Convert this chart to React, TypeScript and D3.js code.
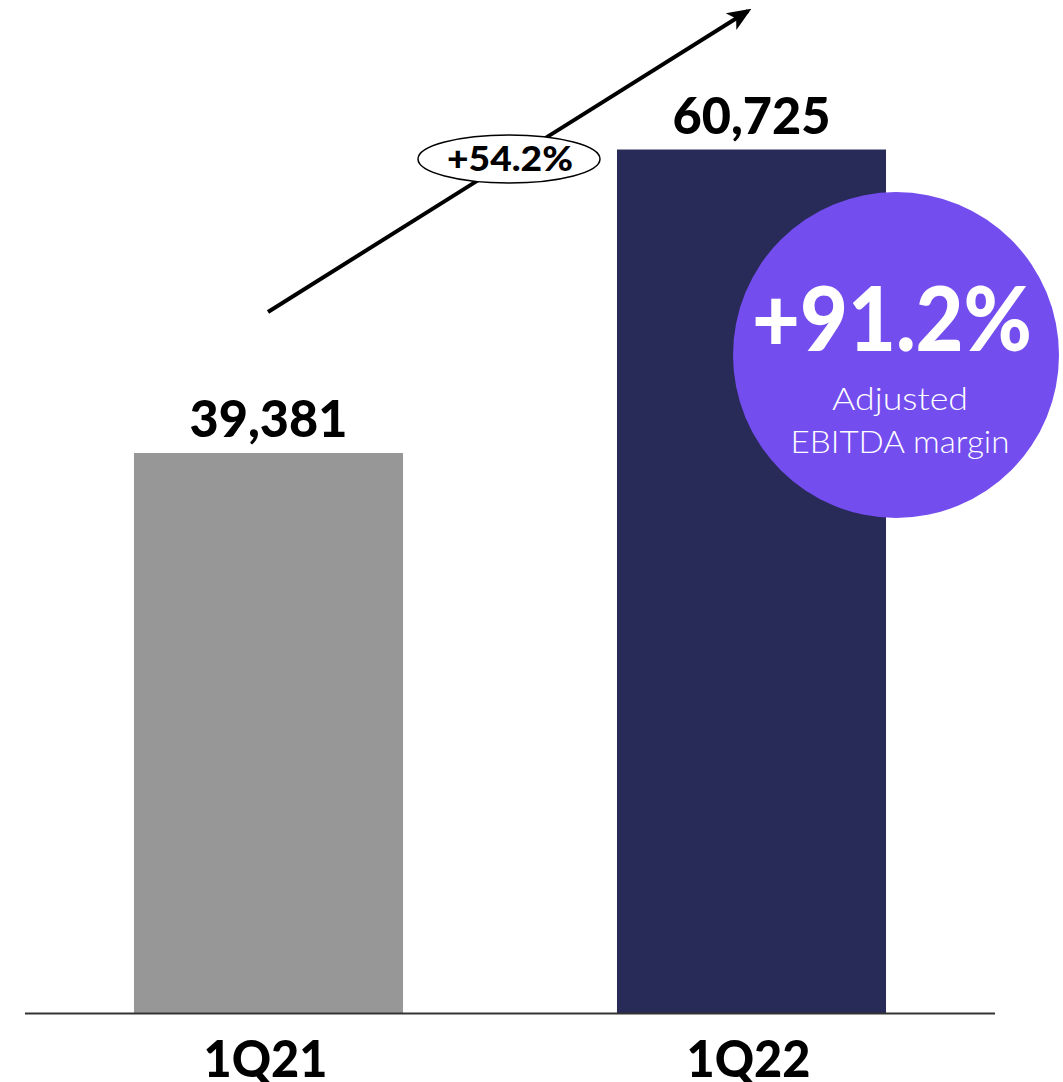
import React from "react";
import * as d3 from "d3";

const categories = ["1Q21", "1Q22"];
const values = [39381, 60725];
const valueLabels = ["39,381", "60,725"];
const barColors = ["#979797", "#282A58"];
const growthLabel = "+54.2%";
const marginLabel = "+91.2%";
const marginText = ["Adjusted", "EBITDA margin"];

const W = 1063;
const H = 1082;
const FONT = "Lato, 'DejaVu Sans', sans-serif";

export default function App() {
  const x = d3
    .scaleBand<string>()
    .domain(categories)
    .range([27, 993])
    .paddingInner(0.443)
    .paddingOuter(0.2215);
  const y = d3.scaleLinear().domain([0, 71240]).range([1013, 0]);
  const bw = x.bandwidth();

  return (
    <svg
      width={W}
      height={H}
      style={{ position: "absolute", left: 0, top: 0, background: "#fff" }}
    >
      <defs>
        <marker
          id="ah"
          viewBox="0 0 12 10"
          refX="10"
          refY="5"
          markerWidth="6"
          markerHeight="5.5"
          orient="auto"
          markerUnits="strokeWidth"
        >
          <path d="M0,0 L12,5 L0,10 L3,5 Z" fill="#000" />
        </marker>
      </defs>
      {categories.map((c, i) => (
        <rect
          key={c}
          x={x(c)}
          y={y(values[i])}
          width={bw}
          height={y(0) - y(values[i])}
          fill={barColors[i]}
        />
      ))}
      <line x1={25} x2={995} y1={y(0) + 0.5} y2={y(0) + 0.5} stroke="#333" strokeWidth={2} />
      {categories.map((c, i) => (
        <text
          key={"v" + c}
          x={(x(c) as number) + bw / 2}
          y={y(values[i]) - 16}
          textAnchor="middle"
          fontFamily={FONT}
          fontWeight="900"
          fontSize={52}
          textLength={158}
          lengthAdjust="spacingAndGlyphs"
          fill="#000"
        >
          {valueLabels[i]}
        </text>
      ))}
      {categories.map((c) => (
        <text
          key={"c" + c}
          x={(x(c) as number) + bw / 2 - 3}
          y={1077}
          textAnchor="middle"
          fontFamily={FONT}
          fontWeight="900"
          fontSize={52}
          textLength={124}
          lengthAdjust="spacingAndGlyphs"
          fill="#000"
        >
          {c}
        </text>
      ))}
      {/* growth arrow */}
      <line
        x1={268}
        y1={312}
        x2={748}
        y2={11}
        stroke="#000"
        strokeWidth={4}
        markerEnd="url(#ah)"
      />
      <ellipse cx={509} cy={159} rx={91} ry={24} fill="#fff" stroke="#000" strokeWidth={1.5} />
      <text
        x={510}
        y={171}
        textAnchor="middle"
        fontFamily={FONT}
        fontWeight="900"
        fontSize={35}
        textLength={126}
        lengthAdjust="spacingAndGlyphs"
        fill="#000"
      >
        {growthLabel}
      </text>
      {/* margin bubble */}
      <circle cx={896} cy={355} r={163} fill="#744DEF" />
      <text
        x={892}
        y={351}
        textAnchor="middle"
        fontFamily={FONT}
        fontWeight="900"
        fontSize={90}
        textLength={280}
        lengthAdjust="spacingAndGlyphs"
        fill="#fff"
      >
        {marginLabel}
      </text>
      <text
        x={900}
        y={410}
        textAnchor="middle"
        fontFamily={FONT}
        fontWeight="300"
        fontSize={31}
        textLength={136}
        lengthAdjust="spacingAndGlyphs"
        fill="#fff"
      >
        {marginText[0]}
      </text>
      <text
        x={900}
        y={453}
        textAnchor="middle"
        fontFamily={FONT}
        fontWeight="300"
        fontSize={31}
        textLength={219}
        lengthAdjust="spacingAndGlyphs"
        fill="#fff"
      >
        {marginText[1]}
      </text>
    </svg>
  );
}
